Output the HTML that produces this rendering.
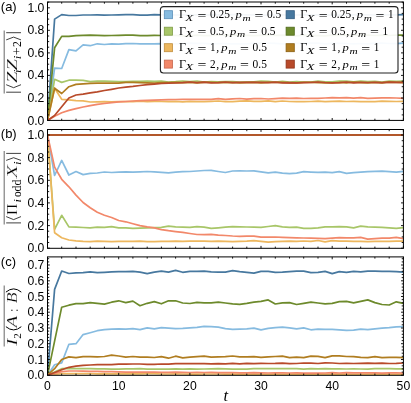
<!DOCTYPE html>
<html><head><meta charset="utf-8"><title>chart</title><style>html,body{margin:0;padding:0;background:#fff}svg{display:block;will-change:transform}</style></head><body>
<svg width="411" height="403" viewBox="0 0 411 403">
<rect width="411" height="403" fill="#fff"/>
<defs>
<clipPath id="cpa"><rect x="47.5" y="2.0" width="355.9" height="118.4"/></clipPath>
<clipPath id="cpb"><rect x="47.5" y="129.5" width="355.9" height="118.8"/></clipPath>
<clipPath id="cpc"><rect x="47.5" y="256.9" width="355.9" height="118.4"/></clipPath>
</defs>
<style>text{font-family:"Liberation Sans",sans-serif;fill:#000}.tk{font-size:12.2px}.pl{font-size:13px}.m{font-family:"Liberation Serif",serif}.i{font-style:italic}</style>
<g fill="none" stroke-width="1.7" stroke-linejoin="round" stroke-linecap="butt" clip-path="url(#cpa)">
<path d="M47.5,120.5 L54.6,68.1 L61.7,68.5 L68.9,49.6 L76.0,50.9 L83.1,44.9 L90.2,45.7 L97.3,43.8 L104.4,44.5 L111.6,43.9 L118.7,44.1 L125.8,43.6 L132.9,43.5 L140.0,43.8 L147.2,43.8 L154.3,43.9 L161.4,43.6 L168.5,43.8 L175.6,43.9 L182.7,43.6 L189.9,43.1 L197.0,43.3 L204.1,43.3 L211.2,43.8 L218.3,43.5 L225.4,43.7 L232.6,43.8 L239.7,43.9 L246.8,43.8 L253.9,43.1 L261.0,43.2 L268.2,43.2 L275.3,43.3 L282.4,43.8 L289.5,43.7 L296.6,43.4 L303.7,43.3 L310.9,43.2 L318.0,43.2 L325.1,43.9 L332.2,43.4 L339.3,43.4 L346.5,43.5 L353.6,43.8 L360.7,43.5 L367.8,43.9 L374.9,43.1 L382.0,43.2 L389.2,43.5 L396.3,43.7 L403.4,43.2" stroke="#86BBE0"/>
<path d="M47.5,120.5 L54.6,79.3 L61.7,82.4 L68.9,80.2 L76.0,80.2 L83.1,80.4 L90.2,81.7 L97.3,81.2 L104.4,81.1 L111.6,81.4 L118.7,81.7 L125.8,81.5 L132.9,81.3 L140.0,81.3 L147.2,81.1 L154.3,81.3 L161.4,81.1 L168.5,82.1 L175.6,81.7 L182.7,81.1 L189.9,81.5 L197.0,81.2 L204.1,82.1 L211.2,81.7 L218.3,81.9 L225.4,81.6 L232.6,81.5 L239.7,82.2 L246.8,81.9 L253.9,81.9 L261.0,81.1 L268.2,81.3 L275.3,82.0 L282.4,81.3 L289.5,82.0 L296.6,81.5 L303.7,82.0 L310.9,82.2 L318.0,81.2 L325.1,81.9 L332.2,81.9 L339.3,81.1 L346.5,81.2 L353.6,81.9 L360.7,81.1 L367.8,81.6 L374.9,81.4 L382.0,82.0 L389.2,81.1 L396.3,81.4 L403.4,81.1" stroke="#A8C668"/>
<path d="M47.5,120.5 L54.6,88.2 L61.7,99.3 L68.9,99.9 L76.0,100.6 L83.1,100.9 L90.2,102.0 L97.3,101.9 L104.4,101.7 L111.6,101.8 L118.7,101.7 L125.8,101.5 L132.9,101.7 L140.0,101.2 L147.2,101.7 L154.3,101.3 L161.4,101.5 L168.5,101.7 L175.6,101.3 L182.7,101.8 L189.9,101.4 L197.0,101.7 L204.1,101.7 L211.2,101.4 L218.3,101.0 L225.4,101.7 L232.6,101.6 L239.7,101.2 L246.8,100.9 L253.9,101.3 L261.0,101.4 L268.2,100.9 L275.3,101.7 L282.4,101.0 L289.5,101.5 L296.6,101.7 L303.7,101.7 L310.9,101.5 L318.0,101.1 L325.1,101.6 L332.2,101.3 L339.3,101.2 L346.5,101.5 L353.6,101.3 L360.7,101.7 L367.8,101.7 L374.9,101.6 L382.0,101.2 L389.2,101.4 L396.3,101.5 L403.4,101.3" stroke="#EDB75E"/>
<path d="M47.5,120.5 L54.6,116.3 L61.7,112.8 L68.9,110.4 L76.0,108.6 L83.1,107.0 L90.2,105.6 L97.3,104.4 L104.4,103.5 L111.6,102.7 L118.7,101.9 L125.8,101.5 L132.9,101.0 L140.0,100.7 L147.2,100.3 L154.3,100.1 L161.4,99.9 L168.5,99.7 L175.6,99.5 L182.7,99.4 L189.9,99.3 L197.0,99.3 L204.1,99.3 L211.2,99.4 L218.3,98.7 L225.4,99.4 L232.6,98.9 L239.7,98.5 L246.8,99.1 L253.9,98.7 L261.0,98.5 L268.2,99.0 L275.3,98.6 L282.4,98.2 L289.5,98.4 L296.6,98.1 L303.7,98.5 L310.9,98.4 L318.0,98.4 L325.1,98.0 L332.2,97.6 L339.3,97.9 L346.5,97.7 L353.6,98.1 L360.7,97.7 L367.8,98.3 L374.9,98.1 L382.0,97.8 L389.2,97.8 L396.3,98.0 L403.4,98.3" stroke="#F2886A"/>
<path d="M47.5,120.5 L54.6,19.1 L61.7,14.6 L68.9,15.5 L76.0,15.5 L83.1,15.0 L90.2,15.0 L97.3,14.9 L104.4,15.1 L111.6,15.0 L118.7,14.9 L125.8,14.7 L132.9,14.7 L140.0,15.1 L147.2,15.1 L154.3,14.7 L161.4,14.8 L168.5,14.8 L175.6,15.0 L182.7,14.9 L189.9,14.9 L197.0,14.9 L204.1,15.1 L211.2,14.9 L218.3,14.9 L225.4,14.8 L232.6,14.7 L239.7,14.7 L246.8,14.9 L253.9,14.9 L261.0,15.0 L268.2,15.1 L275.3,15.1 L282.4,14.9 L289.5,15.0 L296.6,15.0 L303.7,14.7 L310.9,14.9 L318.0,14.9 L325.1,15.0 L332.2,15.1 L339.3,15.0 L346.5,15.1 L353.6,14.9 L360.7,14.7 L367.8,14.8 L374.9,15.0 L382.0,14.7 L389.2,14.8 L396.3,14.8 L403.4,14.7" stroke="#47789F"/>
<path d="M47.5,120.5 L54.6,47.8 L61.7,36.4 L68.9,36.4 L76.0,35.6 L83.1,35.4 L90.2,35.2 L97.3,35.4 L104.4,35.7 L111.6,35.5 L118.7,35.3 L125.8,35.2 L132.9,35.1 L140.0,35.7 L147.2,35.6 L154.3,35.4 L161.4,35.5 L168.5,35.3 L175.6,35.3 L182.7,35.8 L189.9,35.9 L197.0,35.1 L204.1,35.6 L211.2,35.7 L218.3,35.0 L225.4,35.4 L232.6,35.1 L239.7,35.4 L246.8,35.3 L253.9,35.7 L261.0,35.3 L268.2,35.1 L275.3,35.4 L282.4,35.2 L289.5,35.3 L296.6,35.8 L303.7,35.2 L310.9,35.3 L318.0,35.6 L325.1,35.8 L332.2,35.1 L339.3,35.4 L346.5,35.2 L353.6,35.1 L360.7,35.2 L367.8,35.0 L374.9,35.5 L382.0,35.1 L389.2,35.5 L396.3,35.0 L403.4,35.1" stroke="#6D8A2C"/>
<path d="M47.5,120.5 L54.6,88.2 L61.7,93.5 L68.9,86.7 L76.0,84.4 L83.1,83.9 L90.2,83.3 L97.3,83.1 L104.4,83.0 L111.6,83.1 L118.7,83.1 L125.8,82.4 L132.9,82.3 L140.0,82.6 L147.2,82.8 L154.3,83.1 L161.4,82.5 L168.5,82.7 L175.6,82.4 L182.7,82.7 L189.9,82.4 L197.0,82.8 L204.1,82.4 L211.2,82.4 L218.3,82.7 L225.4,82.6 L232.6,82.5 L239.7,82.9 L246.8,82.6 L253.9,82.4 L261.0,82.8 L268.2,82.4 L275.3,82.5 L282.4,82.3 L289.5,82.8 L296.6,83.0 L303.7,82.4 L310.9,82.4 L318.0,82.7 L325.1,83.0 L332.2,82.9 L339.3,82.5 L346.5,82.8 L353.6,82.2 L360.7,82.6 L367.8,82.9 L374.9,82.5 L382.0,82.8 L389.2,82.2 L396.3,82.3 L403.4,82.6" stroke="#B07D20"/>
<path d="M47.5,120.5 L54.6,115.5 L61.7,106.8 L68.9,98.0 L76.0,95.0 L83.1,94.1 L90.2,92.9 L97.3,91.8 L104.4,90.5 L111.6,89.3 L118.7,88.0 L125.8,87.1 L132.9,86.4 L140.0,85.5 L147.2,84.7 L154.3,84.1 L161.4,83.5 L168.5,83.2 L175.6,83.0 L182.7,82.7 L189.9,82.0 L197.0,82.7 L204.1,82.2 L211.2,82.8 L218.3,82.6 L225.4,82.0 L232.6,82.7 L239.7,82.3 L246.8,82.4 L253.9,82.4 L261.0,82.4 L268.2,82.7 L275.3,82.1 L282.4,82.8 L289.5,82.6 L296.6,82.8 L303.7,82.6 L310.9,82.5 L318.0,82.0 L325.1,82.5 L332.2,82.8 L339.3,82.6 L346.5,82.0 L353.6,82.8 L360.7,82.3 L367.8,82.5 L374.9,82.3 L382.0,82.6 L389.2,82.2 L396.3,82.4 L403.4,82.3" stroke="#B84A2A"/>
</g>
<path d="M47.5,120.4v-2.4M47.5,2.0v2.4M61.7,120.4v-1.7M61.7,2.0v1.7M76.0,120.4v-1.7M76.0,2.0v1.7M90.2,120.4v-1.7M90.2,2.0v1.7M104.4,120.4v-1.7M104.4,2.0v1.7M118.7,120.4v-2.4M118.7,2.0v2.4M132.9,120.4v-1.7M132.9,2.0v1.7M147.2,120.4v-1.7M147.2,2.0v1.7M161.4,120.4v-1.7M161.4,2.0v1.7M175.6,120.4v-1.7M175.6,2.0v1.7M189.9,120.4v-2.4M189.9,2.0v2.4M204.1,120.4v-1.7M204.1,2.0v1.7M218.3,120.4v-1.7M218.3,2.0v1.7M232.6,120.4v-1.7M232.6,2.0v1.7M246.8,120.4v-1.7M246.8,2.0v1.7M261.0,120.4v-2.4M261.0,2.0v2.4M275.3,120.4v-1.7M275.3,2.0v1.7M289.5,120.4v-1.7M289.5,2.0v1.7M303.7,120.4v-1.7M303.7,2.0v1.7M318.0,120.4v-1.7M318.0,2.0v1.7M332.2,120.4v-2.4M332.2,2.0v2.4M346.5,120.4v-1.7M346.5,2.0v1.7M360.7,120.4v-1.7M360.7,2.0v1.7M374.9,120.4v-1.7M374.9,2.0v1.7M389.2,120.4v-1.7M389.2,2.0v1.7M403.4,120.4v-2.4M403.4,2.0v2.4M47.5,120.5h2.4M403.4,120.5h-2.4M47.5,114.9h1.7M403.4,114.9h-1.7M47.5,109.2h1.7M403.4,109.2h-1.7M47.5,103.6h1.7M403.4,103.6h-1.7M47.5,98.0h2.4M403.4,98.0h-2.4M47.5,92.3h1.7M403.4,92.3h-1.7M47.5,86.7h1.7M403.4,86.7h-1.7M47.5,81.1h1.7M403.4,81.1h-1.7M47.5,75.4h2.4M403.4,75.4h-2.4M47.5,69.8h1.7M403.4,69.8h-1.7M47.5,64.2h1.7M403.4,64.2h-1.7M47.5,58.5h1.7M403.4,58.5h-1.7M47.5,52.9h2.4M403.4,52.9h-2.4M47.5,47.2h1.7M403.4,47.2h-1.7M47.5,41.6h1.7M403.4,41.6h-1.7M47.5,36.0h1.7M403.4,36.0h-1.7M47.5,30.3h2.4M403.4,30.3h-2.4M47.5,24.7h1.7M403.4,24.7h-1.7M47.5,19.1h1.7M403.4,19.1h-1.7M47.5,13.4h1.7M403.4,13.4h-1.7M47.5,7.8h2.4M403.4,7.8h-2.4M47.5,2.2h1.7M403.4,2.2h-1.7" stroke="#000" stroke-width="0.9" fill="none"/>
<rect x="47.5" y="2.0" width="355.9" height="118.4" fill="none" stroke="#000" stroke-width="1"/>
<text x="44.4" y="124.5" text-anchor="end" class="tk">0.0</text>
<text x="44.4" y="102.0" text-anchor="end" class="tk">0.2</text>
<text x="44.4" y="79.4" text-anchor="end" class="tk">0.4</text>
<text x="44.4" y="56.9" text-anchor="end" class="tk">0.6</text>
<text x="44.4" y="34.3" text-anchor="end" class="tk">0.8</text>
<text x="44.4" y="11.8" text-anchor="end" class="tk">1.0</text>
<g fill="none" stroke-width="1.7" stroke-linejoin="round" stroke-linecap="butt" clip-path="url(#cpb)">
<path d="M47.5,135.0 L54.6,175.5 L61.7,160.4 L68.9,175.0 L76.0,171.5 L83.1,174.6 L90.2,173.4 L97.3,173.0 L104.4,172.0 L111.6,172.5 L118.7,172.2 L125.8,171.9 L132.9,172.1 L140.0,171.8 L147.2,171.5 L154.3,171.9 L161.4,172.4 L168.5,172.8 L175.6,172.1 L182.7,171.7 L189.9,171.5 L197.0,171.0 L204.1,170.5 L211.2,170.4 L218.3,171.5 L225.4,172.5 L232.6,171.0 L239.7,170.9 L246.8,171.0 L253.9,170.8 L261.0,171.8 L268.2,172.9 L275.3,172.1 L282.4,173.1 L289.5,173.7 L296.6,173.1 L303.7,171.7 L310.9,172.1 L318.0,172.4 L325.1,172.1 L332.2,172.6 L339.3,171.7 L346.5,173.4 L353.6,172.6 L360.7,172.1 L367.8,171.7 L374.9,171.3 L382.0,171.2 L389.2,171.7 L396.3,172.1 L403.4,171.3" stroke="#86BBE0"/>
<path d="M47.5,135.0 L54.6,229.3 L61.7,215.3 L68.9,226.9 L76.0,227.1 L83.1,227.5 L90.2,227.8 L97.3,227.1 L104.4,227.3 L111.6,226.7 L118.7,227.9 L125.8,227.8 L132.9,228.3 L140.0,228.1 L147.2,227.9 L154.3,227.7 L161.4,227.4 L168.5,226.2 L175.6,226.9 L182.7,227.1 L189.9,227.3 L197.0,226.7 L204.1,227.1 L211.2,228.4 L218.3,227.8 L225.4,227.1 L232.6,226.6 L239.7,226.8 L246.8,227.0 L253.9,227.1 L261.0,227.3 L268.2,226.5 L275.3,225.7 L282.4,226.9 L289.5,227.4 L296.6,227.1 L303.7,228.3 L310.9,228.4 L318.0,227.8 L325.1,226.9 L332.2,226.8 L339.3,226.6 L346.5,226.8 L353.6,227.8 L360.7,226.2 L367.8,226.9 L374.9,227.1 L382.0,227.3 L389.2,227.8 L396.3,228.4 L403.4,227.7" stroke="#A8C668"/>
<path d="M47.5,135.0 L54.6,232.8 L61.7,237.7 L68.9,240.0 L76.0,240.8 L83.1,241.4 L90.2,241.7 L97.3,241.2 L104.4,241.4 L111.6,241.7 L118.7,241.4 L125.8,241.3 L132.9,241.4 L140.0,241.2 L147.2,241.6 L154.3,241.7 L161.4,241.3 L168.5,241.4 L175.6,241.2 L182.7,241.4 L189.9,241.1 L197.0,241.0 L204.1,241.2 L211.2,241.4 L218.3,241.2 L225.4,241.4 L232.6,241.6 L239.7,241.4 L246.8,241.2 L253.9,240.7 L261.0,241.4 L268.2,242.1 L275.3,241.6 L282.4,241.4 L289.5,241.2 L296.6,241.4 L303.7,241.0 L310.9,241.4 L318.0,240.5 L325.1,241.9 L332.2,240.7 L339.3,241.2 L346.5,241.1 L353.6,241.3 L360.7,241.4 L367.8,241.6 L374.9,241.4 L382.0,241.3 L389.2,241.4 L396.3,241.2 L403.4,241.1" stroke="#EDB75E"/>
<path d="M47.5,135.0 L54.6,167.1 L61.7,179.3 L68.9,186.8 L76.0,195.1 L83.1,202.5 L90.2,207.8 L97.3,212.3 L104.4,215.3 L111.6,217.5 L118.7,220.5 L125.8,221.8 L132.9,223.7 L140.0,225.6 L147.2,226.9 L154.3,227.9 L161.4,229.6 L168.5,230.7 L175.6,231.6 L182.7,232.4 L189.9,233.5 L197.0,234.5 L204.1,234.7 L211.2,234.4 L218.3,235.1 L225.4,235.5 L232.6,236.0 L239.7,236.3 L246.8,236.1 L253.9,236.2 L261.0,237.2 L268.2,237.1 L275.3,237.0 L282.4,237.4 L289.5,237.7 L296.6,237.9 L303.7,238.0 L310.9,238.1 L318.0,238.4 L325.1,238.6 L332.2,238.1 L339.3,237.6 L346.5,237.8 L353.6,237.9 L360.7,237.4 L367.8,239.1 L374.9,238.6 L382.0,238.2 L389.2,238.1 L396.3,237.4 L403.4,238.6" stroke="#F2886A"/>
<path d="M47.5,135.0 L54.6,135.0 L61.7,135.0 L68.9,135.0 L76.0,135.0 L83.1,135.0 L90.2,135.0 L97.3,135.0 L104.4,135.0 L111.6,135.0 L118.7,135.0 L125.8,135.0 L132.9,135.0 L140.0,135.0 L147.2,135.0 L154.3,135.0 L161.4,135.0 L168.5,135.0 L175.6,135.0 L182.7,135.0 L189.9,135.0 L197.0,135.0 L204.1,135.0 L211.2,135.0 L218.3,135.0 L225.4,135.0 L232.6,135.0 L239.7,135.0 L246.8,135.0 L253.9,135.0 L261.0,135.0 L268.2,135.0 L275.3,135.0 L282.4,135.0 L289.5,135.0 L296.6,135.0 L303.7,135.0 L310.9,135.0 L318.0,135.0 L325.1,135.0 L332.2,135.0 L339.3,135.0 L346.5,135.0 L353.6,135.0 L360.7,135.0 L367.8,135.0 L374.9,135.0 L382.0,135.0 L389.2,135.0 L396.3,135.0 L403.4,135.0" stroke="#47789F"/>
<path d="M47.5,135.0 L54.6,135.0 L61.7,135.0 L68.9,135.0 L76.0,135.0 L83.1,135.0 L90.2,135.0 L97.3,135.0 L104.4,135.0 L111.6,135.0 L118.7,135.0 L125.8,135.0 L132.9,135.0 L140.0,135.0 L147.2,135.0 L154.3,135.0 L161.4,135.0 L168.5,135.0 L175.6,135.0 L182.7,135.0 L189.9,135.0 L197.0,135.0 L204.1,135.0 L211.2,135.0 L218.3,135.0 L225.4,135.0 L232.6,135.0 L239.7,135.0 L246.8,135.0 L253.9,135.0 L261.0,135.0 L268.2,135.0 L275.3,135.0 L282.4,135.0 L289.5,135.0 L296.6,135.0 L303.7,135.0 L310.9,135.0 L318.0,135.0 L325.1,135.0 L332.2,135.0 L339.3,135.0 L346.5,135.0 L353.6,135.0 L360.7,135.0 L367.8,135.0 L374.9,135.0 L382.0,135.0 L389.2,135.0 L396.3,135.0 L403.4,135.0" stroke="#6D8A2C"/>
<path d="M47.5,135.0 L54.6,135.0 L61.7,135.0 L68.9,135.0 L76.0,135.0 L83.1,135.0 L90.2,135.0 L97.3,135.0 L104.4,135.0 L111.6,135.0 L118.7,135.0 L125.8,135.0 L132.9,135.0 L140.0,135.0 L147.2,135.0 L154.3,135.0 L161.4,135.0 L168.5,135.0 L175.6,135.0 L182.7,135.0 L189.9,135.0 L197.0,135.0 L204.1,135.0 L211.2,135.0 L218.3,135.0 L225.4,135.0 L232.6,135.0 L239.7,135.0 L246.8,135.0 L253.9,135.0 L261.0,135.0 L268.2,135.0 L275.3,135.0 L282.4,135.0 L289.5,135.0 L296.6,135.0 L303.7,135.0 L310.9,135.0 L318.0,135.0 L325.1,135.0 L332.2,135.0 L339.3,135.0 L346.5,135.0 L353.6,135.0 L360.7,135.0 L367.8,135.0 L374.9,135.0 L382.0,135.0 L389.2,135.0 L396.3,135.0 L403.4,135.0" stroke="#B07D20"/>
<path d="M47.5,135.0 L54.6,135.0 L61.7,135.0 L68.9,135.0 L76.0,135.0 L83.1,135.0 L90.2,135.0 L97.3,135.0 L104.4,135.0 L111.6,135.0 L118.7,135.0 L125.8,135.0 L132.9,135.0 L140.0,135.0 L147.2,135.0 L154.3,135.0 L161.4,135.0 L168.5,135.0 L175.6,135.0 L182.7,135.0 L189.9,135.0 L197.0,135.0 L204.1,135.0 L211.2,135.0 L218.3,135.0 L225.4,135.0 L232.6,135.0 L239.7,135.0 L246.8,135.0 L253.9,135.0 L261.0,135.0 L268.2,135.0 L275.3,135.0 L282.4,135.0 L289.5,135.0 L296.6,135.0 L303.7,135.0 L310.9,135.0 L318.0,135.0 L325.1,135.0 L332.2,135.0 L339.3,135.0 L346.5,135.0 L353.6,135.0 L360.7,135.0 L367.8,135.0 L374.9,135.0 L382.0,135.0 L389.2,135.0 L396.3,135.0 L403.4,135.0" stroke="#B84A2A"/>
</g>
<path d="M47.5,248.3v-2.4M47.5,129.5v2.4M61.7,248.3v-1.7M61.7,129.5v1.7M76.0,248.3v-1.7M76.0,129.5v1.7M90.2,248.3v-1.7M90.2,129.5v1.7M104.4,248.3v-1.7M104.4,129.5v1.7M118.7,248.3v-2.4M118.7,129.5v2.4M132.9,248.3v-1.7M132.9,129.5v1.7M147.2,248.3v-1.7M147.2,129.5v1.7M161.4,248.3v-1.7M161.4,129.5v1.7M175.6,248.3v-1.7M175.6,129.5v1.7M189.9,248.3v-2.4M189.9,129.5v2.4M204.1,248.3v-1.7M204.1,129.5v1.7M218.3,248.3v-1.7M218.3,129.5v1.7M232.6,248.3v-1.7M232.6,129.5v1.7M246.8,248.3v-1.7M246.8,129.5v1.7M261.0,248.3v-2.4M261.0,129.5v2.4M275.3,248.3v-1.7M275.3,129.5v1.7M289.5,248.3v-1.7M289.5,129.5v1.7M303.7,248.3v-1.7M303.7,129.5v1.7M318.0,248.3v-1.7M318.0,129.5v1.7M332.2,248.3v-2.4M332.2,129.5v2.4M346.5,248.3v-1.7M346.5,129.5v1.7M360.7,248.3v-1.7M360.7,129.5v1.7M374.9,248.3v-1.7M374.9,129.5v1.7M389.2,248.3v-1.7M389.2,129.5v1.7M403.4,248.3v-2.4M403.4,129.5v2.4M47.5,248.2h2.4M403.4,248.2h-2.4M47.5,242.5h1.7M403.4,242.5h-1.7M47.5,236.9h1.7M403.4,236.9h-1.7M47.5,231.2h1.7M403.4,231.2h-1.7M47.5,225.6h2.4M403.4,225.6h-2.4M47.5,219.9h1.7M403.4,219.9h-1.7M47.5,214.2h1.7M403.4,214.2h-1.7M47.5,208.6h1.7M403.4,208.6h-1.7M47.5,202.9h2.4M403.4,202.9h-2.4M47.5,197.3h1.7M403.4,197.3h-1.7M47.5,191.6h1.7M403.4,191.6h-1.7M47.5,185.9h1.7M403.4,185.9h-1.7M47.5,180.3h2.4M403.4,180.3h-2.4M47.5,174.6h1.7M403.4,174.6h-1.7M47.5,169.0h1.7M403.4,169.0h-1.7M47.5,163.3h1.7M403.4,163.3h-1.7M47.5,157.6h2.4M403.4,157.6h-2.4M47.5,152.0h1.7M403.4,152.0h-1.7M47.5,146.3h1.7M403.4,146.3h-1.7M47.5,140.7h1.7M403.4,140.7h-1.7M47.5,135.0h2.4M403.4,135.0h-2.4" stroke="#000" stroke-width="0.9" fill="none"/>
<rect x="47.5" y="129.5" width="355.9" height="118.8" fill="none" stroke="#000" stroke-width="1"/>
<text x="44.4" y="252.2" text-anchor="end" class="tk">0.0</text>
<text x="44.4" y="229.6" text-anchor="end" class="tk">0.2</text>
<text x="44.4" y="206.9" text-anchor="end" class="tk">0.4</text>
<text x="44.4" y="184.3" text-anchor="end" class="tk">0.6</text>
<text x="44.4" y="161.6" text-anchor="end" class="tk">0.8</text>
<text x="44.4" y="139.0" text-anchor="end" class="tk">1.0</text>
<g fill="none" stroke-width="1.7" stroke-linejoin="round" stroke-linecap="butt" clip-path="url(#cpc)">
<path d="M47.5,375.2 L54.6,364.8 L61.7,362.9 L68.9,344.3 L76.0,343.7 L83.1,334.6 L90.2,332.7 L97.3,330.7 L104.4,329.6 L111.6,329.1 L118.7,328.9 L125.8,329.1 L132.9,328.6 L140.0,329.6 L147.2,327.9 L154.3,328.9 L161.4,327.6 L168.5,328.1 L175.6,328.6 L182.7,328.4 L189.9,327.9 L197.0,327.4 L204.1,326.4 L211.2,326.7 L218.3,327.2 L225.4,328.6 L232.6,329.4 L239.7,329.1 L246.8,328.9 L253.9,328.1 L261.0,329.8 L268.2,328.4 L275.3,327.6 L282.4,327.2 L289.5,327.9 L296.6,328.9 L303.7,327.9 L310.9,329.8 L318.0,329.1 L325.1,329.4 L332.2,329.4 L339.3,329.8 L346.5,330.3 L353.6,330.1 L360.7,329.1 L367.8,329.6 L374.9,328.9 L382.0,328.1 L389.2,327.6 L396.3,326.9 L403.4,326.7" stroke="#86BBE0"/>
<path d="M47.5,375.2 L54.6,372.1 L61.7,368.7 L68.9,368.4 L76.0,368.6 L83.1,368.7 L90.2,368.7 L97.3,368.9 L104.4,368.9 L111.6,369.1 L118.7,369.1 L125.8,368.8 L132.9,368.8 L140.0,368.7 L147.2,369.1 L154.3,369.1 L161.4,369.1 L168.5,369.1 L175.6,368.8 L182.7,369.1 L189.9,368.9 L197.0,369.1 L204.1,369.0 L211.2,368.9 L218.3,368.7 L225.4,368.8 L232.6,369.2 L239.7,369.0 L246.8,369.1 L253.9,368.7 L261.0,368.7 L268.2,368.7 L275.3,368.7 L282.4,368.7 L289.5,368.6 L296.6,368.7 L303.7,369.1 L310.9,368.7 L318.0,368.9 L325.1,368.7 L332.2,368.9 L339.3,368.9 L346.5,369.0 L353.6,368.9 L360.7,369.0 L367.8,369.1 L374.9,368.7 L382.0,368.7 L389.2,368.6 L396.3,368.8 L403.4,368.9" stroke="#A8C668"/>
<path d="M47.5,375.2 L54.6,374.3 L61.7,373.6 L68.9,373.5 L76.0,373.6 L83.1,373.6 L90.2,373.5 L97.3,373.8 L104.4,373.6 L111.6,373.8 L118.7,373.6 L125.8,373.9 L132.9,373.7 L140.0,373.8 L147.2,373.7 L154.3,373.7 L161.4,374.0 L168.5,374.0 L175.6,373.9 L182.7,374.0 L189.9,374.1 L197.0,374.1 L204.1,374.0 L211.2,374.0 L218.3,374.0 L225.4,374.2 L232.6,374.0 L239.7,374.2 L246.8,374.3 L253.9,374.2 L261.0,374.3 L268.2,374.4 L275.3,374.2 L282.4,374.3 L289.5,374.2 L296.6,374.1 L303.7,374.2 L310.9,374.3 L318.0,374.2 L325.1,374.1 L332.2,374.3 L339.3,374.1 L346.5,374.4 L353.6,374.3 L360.7,374.3 L367.8,374.1 L374.9,374.2 L382.0,374.2 L389.2,374.3 L396.3,374.3 L403.4,374.2" stroke="#EDB75E"/>
<path d="M47.5,375.2 L54.6,373.3 L61.7,371.7 L68.9,371.0 L76.0,371.0 L83.1,371.1 L90.2,371.3 L97.3,371.4 L104.4,371.6 L111.6,371.7 L118.7,371.9 L125.8,372.1 L132.9,372.2 L140.0,372.0 L147.2,372.1 L154.3,372.0 L161.4,372.3 L168.5,372.4 L175.6,372.2 L182.7,372.3 L189.9,372.5 L197.0,372.4 L204.1,372.5 L211.2,372.4 L218.3,372.7 L225.4,372.7 L232.6,372.5 L239.7,372.8 L246.8,372.8 L253.9,372.7 L261.0,372.8 L268.2,373.0 L275.3,372.9 L282.4,372.9 L289.5,373.0 L296.6,372.9 L303.7,373.1 L310.9,373.0 L318.0,373.1 L325.1,373.0 L332.2,372.7 L339.3,373.0 L346.5,372.7 L353.6,372.9 L360.7,372.9 L367.8,372.8 L374.9,372.8 L382.0,373.1 L389.2,372.9 L396.3,372.9 L403.4,373.0" stroke="#F2886A"/>
<path d="M47.5,375.2 L54.6,289.4 L61.7,271.0 L68.9,273.5 L76.0,272.9 L83.1,272.6 L90.2,271.8 L97.3,272.7 L104.4,272.3 L111.6,271.8 L118.7,271.6 L125.8,271.6 L132.9,271.4 L140.0,272.1 L147.2,273.6 L154.3,272.1 L161.4,271.1 L168.5,272.1 L175.6,270.4 L182.7,272.3 L189.9,271.4 L197.0,271.4 L204.1,271.1 L211.2,271.9 L218.3,272.1 L225.4,272.1 L232.6,270.6 L239.7,271.6 L246.8,272.3 L253.9,273.1 L261.0,271.4 L268.2,271.4 L275.3,272.3 L282.4,272.1 L289.5,271.6 L296.6,271.1 L303.7,271.1 L310.9,272.6 L318.0,272.3 L325.1,271.4 L332.2,273.6 L339.3,271.6 L346.5,272.3 L353.6,271.4 L360.7,271.9 L367.8,271.1 L374.9,271.1 L382.0,271.4 L389.2,271.4 L396.3,271.6 L403.4,272.1" stroke="#47789F"/>
<path d="M47.5,375.2 L54.6,341.2 L61.7,307.2 L68.9,305.2 L76.0,303.7 L83.1,303.7 L90.2,302.6 L97.3,303.3 L104.4,304.1 L111.6,302.2 L118.7,300.8 L125.8,302.6 L132.9,301.1 L140.0,305.7 L147.2,303.3 L154.3,301.6 L161.4,303.8 L168.5,300.8 L175.6,300.8 L182.7,303.0 L189.9,303.5 L197.0,302.3 L204.1,302.8 L211.2,302.8 L218.3,302.1 L225.4,303.0 L232.6,303.8 L239.7,304.3 L246.8,303.3 L253.9,302.1 L261.0,301.3 L268.2,299.9 L275.3,304.0 L282.4,302.8 L289.5,302.6 L296.6,304.5 L303.7,303.3 L310.9,302.1 L318.0,303.0 L325.1,303.8 L332.2,303.3 L339.3,301.6 L346.5,301.3 L353.6,302.8 L360.7,301.3 L367.8,299.9 L374.9,302.6 L382.0,304.5 L389.2,305.0 L396.3,301.8 L403.4,303.3" stroke="#6D8A2C"/>
<path d="M47.5,375.2 L54.6,368.7 L61.7,359.5 L68.9,356.9 L76.0,357.6 L83.1,356.6 L90.2,356.6 L97.3,356.9 L104.4,356.5 L111.6,355.2 L118.7,356.0 L125.8,357.2 L132.9,356.5 L140.0,357.2 L147.2,357.2 L154.3,357.5 L161.4,356.7 L168.5,358.2 L175.6,356.2 L182.7,357.9 L189.9,357.2 L197.0,356.7 L204.1,356.2 L211.2,357.2 L218.3,356.9 L225.4,356.7 L232.6,356.0 L239.7,356.8 L246.8,356.8 L253.9,356.6 L261.0,357.4 L268.2,356.8 L275.3,356.5 L282.4,356.2 L289.5,357.6 L296.6,357.2 L303.7,357.6 L310.9,356.2 L318.0,356.4 L325.1,357.6 L332.2,355.9 L339.3,355.9 L346.5,356.5 L353.6,356.6 L360.7,357.4 L367.8,357.7 L374.9,356.7 L382.0,357.6 L389.2,357.4 L396.3,357.3 L403.4,357.7" stroke="#B07D20"/>
<path d="M47.5,375.2 L54.6,372.5 L61.7,369.7 L68.9,367.3 L76.0,366.2 L83.1,365.4 L90.2,365.0 L97.3,364.7 L104.4,364.7 L111.6,364.7 L118.7,364.2 L125.8,364.2 L132.9,364.0 L140.0,364.0 L147.2,364.3 L154.3,364.3 L161.4,364.0 L168.5,364.1 L175.6,363.7 L182.7,363.7 L189.9,363.7 L197.0,363.7 L204.1,363.6 L211.2,363.9 L218.3,363.7 L225.4,363.8 L232.6,363.3 L239.7,363.8 L246.8,363.3 L253.9,363.7 L261.0,363.3 L268.2,363.5 L275.3,363.4 L282.4,363.1 L289.5,363.6 L296.6,363.5 L303.7,363.0 L310.9,363.2 L318.0,363.5 L325.1,362.9 L332.2,363.0 L339.3,363.5 L346.5,363.3 L353.6,363.5 L360.7,363.4 L367.8,363.2 L374.9,363.4 L382.0,363.1 L389.2,363.5 L396.3,363.4 L403.4,363.0" stroke="#B84A2A"/>
</g>
<path d="M47.5,375.3v-2.4M47.5,256.9v2.4M61.7,375.3v-1.7M61.7,256.9v1.7M76.0,375.3v-1.7M76.0,256.9v1.7M90.2,375.3v-1.7M90.2,256.9v1.7M104.4,375.3v-1.7M104.4,256.9v1.7M118.7,375.3v-2.4M118.7,256.9v2.4M132.9,375.3v-1.7M132.9,256.9v1.7M147.2,375.3v-1.7M147.2,256.9v1.7M161.4,375.3v-1.7M161.4,256.9v1.7M175.6,375.3v-1.7M175.6,256.9v1.7M189.9,375.3v-2.4M189.9,256.9v2.4M204.1,375.3v-1.7M204.1,256.9v1.7M218.3,375.3v-1.7M218.3,256.9v1.7M232.6,375.3v-1.7M232.6,256.9v1.7M246.8,375.3v-1.7M246.8,256.9v1.7M261.0,375.3v-2.4M261.0,256.9v2.4M275.3,375.3v-1.7M275.3,256.9v1.7M289.5,375.3v-1.7M289.5,256.9v1.7M303.7,375.3v-1.7M303.7,256.9v1.7M318.0,375.3v-1.7M318.0,256.9v1.7M332.2,375.3v-2.4M332.2,256.9v2.4M346.5,375.3v-1.7M346.5,256.9v1.7M360.7,375.3v-1.7M360.7,256.9v1.7M374.9,375.3v-1.7M374.9,256.9v1.7M389.2,375.3v-1.7M389.2,256.9v1.7M403.4,375.3v-2.4M403.4,256.9v2.4M47.5,375.2h2.4M403.4,375.2h-2.4M47.5,372.1h1.7M403.4,372.1h-1.7M47.5,368.9h1.7M403.4,368.9h-1.7M47.5,365.8h1.7M403.4,365.8h-1.7M47.5,362.6h1.7M403.4,362.6h-1.7M47.5,359.5h2.4M403.4,359.5h-2.4M47.5,356.3h1.7M403.4,356.3h-1.7M47.5,353.2h1.7M403.4,353.2h-1.7M47.5,350.0h1.7M403.4,350.0h-1.7M47.5,346.9h1.7M403.4,346.9h-1.7M47.5,343.7h2.4M403.4,343.7h-2.4M47.5,340.6h1.7M403.4,340.6h-1.7M47.5,337.4h1.7M403.4,337.4h-1.7M47.5,334.3h1.7M403.4,334.3h-1.7M47.5,331.1h1.7M403.4,331.1h-1.7M47.5,328.0h2.4M403.4,328.0h-2.4M47.5,324.8h1.7M403.4,324.8h-1.7M47.5,321.7h1.7M403.4,321.7h-1.7M47.5,318.5h1.7M403.4,318.5h-1.7M47.5,315.4h1.7M403.4,315.4h-1.7M47.5,312.2h2.4M403.4,312.2h-2.4M47.5,309.1h1.7M403.4,309.1h-1.7M47.5,305.9h1.7M403.4,305.9h-1.7M47.5,302.8h1.7M403.4,302.8h-1.7M47.5,299.6h1.7M403.4,299.6h-1.7M47.5,296.5h2.4M403.4,296.5h-2.4M47.5,293.4h1.7M403.4,293.4h-1.7M47.5,290.2h1.7M403.4,290.2h-1.7M47.5,287.1h1.7M403.4,287.1h-1.7M47.5,283.9h1.7M403.4,283.9h-1.7M47.5,280.8h2.4M403.4,280.8h-2.4M47.5,277.6h1.7M403.4,277.6h-1.7M47.5,274.5h1.7M403.4,274.5h-1.7M47.5,271.3h1.7M403.4,271.3h-1.7M47.5,268.2h1.7M403.4,268.2h-1.7M47.5,265.0h2.4M403.4,265.0h-2.4M47.5,261.9h1.7M403.4,261.9h-1.7M47.5,258.7h1.7M403.4,258.7h-1.7" stroke="#000" stroke-width="0.9" fill="none"/>
<rect x="47.5" y="256.9" width="355.9" height="118.4" fill="none" stroke="#000" stroke-width="1"/>
<text x="44.4" y="379.2" text-anchor="end" class="tk">0.0</text>
<text x="44.4" y="363.5" text-anchor="end" class="tk">0.1</text>
<text x="44.4" y="347.7" text-anchor="end" class="tk">0.2</text>
<text x="44.4" y="332.0" text-anchor="end" class="tk">0.3</text>
<text x="44.4" y="316.2" text-anchor="end" class="tk">0.4</text>
<text x="44.4" y="300.5" text-anchor="end" class="tk">0.5</text>
<text x="44.4" y="284.8" text-anchor="end" class="tk">0.6</text>
<text x="44.4" y="269.0" text-anchor="end" class="tk">0.7</text>
<text x="47.5" y="389.6" text-anchor="middle" class="tk">0</text>
<text x="118.7" y="389.6" text-anchor="middle" class="tk">10</text>
<text x="189.9" y="389.6" text-anchor="middle" class="tk">20</text>
<text x="261.0" y="389.6" text-anchor="middle" class="tk">30</text>
<text x="332.2" y="389.6" text-anchor="middle" class="tk">40</text>
<text x="403.4" y="389.6" text-anchor="middle" class="tk">50</text>
<text x="225.8" y="400.5" text-anchor="middle" class="m i" style="font-size:16.5px">t</text>
<text x="0.8" y="10.8" class="pl">(a)</text>
<text x="0.8" y="138.4" class="pl">(b)</text>
<text x="0.8" y="266.0" class="pl">(c)</text>
<rect x="160.4" y="6.6" width="237.6" height="66.4" rx="3" ry="3" fill="#fff" fill-opacity="0.94" stroke="#222" stroke-width="1.1"/>
<rect x="164.3" y="10.7" width="8.2" height="8.0" fill="#86BBE0" stroke="#5A8FBA" stroke-width="0.8"/>
<text x="179.0" y="18.3" textLength="7.0" lengthAdjust="spacingAndGlyphs" class="m" style="font-size:11.6px">Γ</text><text x="185.3" y="20.9" textLength="8.0" lengthAdjust="spacingAndGlyphs" class="m i" style="font-size:9.0px">X</text><text x="197.5" y="19.5" textLength="8.9" lengthAdjust="spacingAndGlyphs" class="m" style="font-size:12.0px">=</text><text x="210.0" y="18.3" textLength="19.9" lengthAdjust="spacingAndGlyphs" class="m" style="font-size:12.4px">0.25</text><text x="230.6" y="18.3" class="m" style="font-size:11.6px">,</text><text x="235.5" y="18.3" textLength="6.3" lengthAdjust="spacingAndGlyphs" class="m i" style="font-size:11.0px">p</text><text x="242.5" y="20.8" textLength="8.2" lengthAdjust="spacingAndGlyphs" class="m i" style="font-size:8.6px">m</text><text x="254.4" y="19.5" textLength="8.9" lengthAdjust="spacingAndGlyphs" class="m" style="font-size:12.0px">=</text><text x="266.9" y="18.3" textLength="14.3" lengthAdjust="spacingAndGlyphs" class="m" style="font-size:12.4px">0.5</text>
<rect x="286.1" y="10.7" width="8.2" height="8.0" fill="#47789F" stroke="#2F5A80" stroke-width="0.8"/>
<text x="300.2" y="18.3" textLength="7.0" lengthAdjust="spacingAndGlyphs" class="m" style="font-size:11.6px">Γ</text><text x="306.5" y="20.9" textLength="8.0" lengthAdjust="spacingAndGlyphs" class="m i" style="font-size:9.0px">X</text><text x="318.7" y="19.5" textLength="8.9" lengthAdjust="spacingAndGlyphs" class="m" style="font-size:12.0px">=</text><text x="331.2" y="18.3" textLength="19.9" lengthAdjust="spacingAndGlyphs" class="m" style="font-size:12.4px">0.25</text><text x="351.8" y="18.3" class="m" style="font-size:11.6px">,</text><text x="356.7" y="18.3" textLength="6.3" lengthAdjust="spacingAndGlyphs" class="m i" style="font-size:11.0px">p</text><text x="363.7" y="20.8" textLength="8.2" lengthAdjust="spacingAndGlyphs" class="m i" style="font-size:8.6px">m</text><text x="375.6" y="19.5" textLength="8.9" lengthAdjust="spacingAndGlyphs" class="m" style="font-size:12.0px">=</text><text x="388.1" y="18.3" textLength="5.6" lengthAdjust="spacingAndGlyphs" class="m" style="font-size:12.4px">1</text>
<rect x="164.3" y="27.2" width="8.2" height="8.0" fill="#A8C668" stroke="#7E9C45" stroke-width="0.8"/>
<text x="179.0" y="34.8" textLength="7.0" lengthAdjust="spacingAndGlyphs" class="m" style="font-size:11.6px">Γ</text><text x="185.3" y="37.4" textLength="8.0" lengthAdjust="spacingAndGlyphs" class="m i" style="font-size:9.0px">X</text><text x="197.5" y="36.0" textLength="8.9" lengthAdjust="spacingAndGlyphs" class="m" style="font-size:12.0px">=</text><text x="210.0" y="34.8" textLength="14.3" lengthAdjust="spacingAndGlyphs" class="m" style="font-size:12.4px">0.5</text><text x="225.0" y="34.8" class="m" style="font-size:11.6px">,</text><text x="229.9" y="34.8" textLength="6.3" lengthAdjust="spacingAndGlyphs" class="m i" style="font-size:11.0px">p</text><text x="236.9" y="37.3" textLength="8.2" lengthAdjust="spacingAndGlyphs" class="m i" style="font-size:8.6px">m</text><text x="248.8" y="36.0" textLength="8.9" lengthAdjust="spacingAndGlyphs" class="m" style="font-size:12.0px">=</text><text x="261.3" y="34.8" textLength="14.3" lengthAdjust="spacingAndGlyphs" class="m" style="font-size:12.4px">0.5</text>
<rect x="286.1" y="27.2" width="8.2" height="8.0" fill="#6D8A2C" stroke="#4F6A1A" stroke-width="0.8"/>
<text x="300.2" y="34.8" textLength="7.0" lengthAdjust="spacingAndGlyphs" class="m" style="font-size:11.6px">Γ</text><text x="306.5" y="37.4" textLength="8.0" lengthAdjust="spacingAndGlyphs" class="m i" style="font-size:9.0px">X</text><text x="318.7" y="36.0" textLength="8.9" lengthAdjust="spacingAndGlyphs" class="m" style="font-size:12.0px">=</text><text x="331.2" y="34.8" textLength="14.3" lengthAdjust="spacingAndGlyphs" class="m" style="font-size:12.4px">0.5</text><text x="346.2" y="34.8" class="m" style="font-size:11.6px">,</text><text x="351.1" y="34.8" textLength="6.3" lengthAdjust="spacingAndGlyphs" class="m i" style="font-size:11.0px">p</text><text x="358.1" y="37.3" textLength="8.2" lengthAdjust="spacingAndGlyphs" class="m i" style="font-size:8.6px">m</text><text x="370.0" y="36.0" textLength="8.9" lengthAdjust="spacingAndGlyphs" class="m" style="font-size:12.0px">=</text><text x="382.5" y="34.8" textLength="5.6" lengthAdjust="spacingAndGlyphs" class="m" style="font-size:12.4px">1</text>
<rect x="164.3" y="43.7" width="8.2" height="8.0" fill="#EDB75E" stroke="#C08E3E" stroke-width="0.8"/>
<text x="179.0" y="51.3" textLength="7.0" lengthAdjust="spacingAndGlyphs" class="m" style="font-size:11.6px">Γ</text><text x="185.3" y="53.9" textLength="8.0" lengthAdjust="spacingAndGlyphs" class="m i" style="font-size:9.0px">X</text><text x="197.5" y="52.5" textLength="8.9" lengthAdjust="spacingAndGlyphs" class="m" style="font-size:12.0px">=</text><text x="210.0" y="51.3" textLength="5.6" lengthAdjust="spacingAndGlyphs" class="m" style="font-size:12.4px">1</text><text x="216.3" y="51.3" class="m" style="font-size:11.6px">,</text><text x="221.2" y="51.3" textLength="6.3" lengthAdjust="spacingAndGlyphs" class="m i" style="font-size:11.0px">p</text><text x="228.2" y="53.8" textLength="8.2" lengthAdjust="spacingAndGlyphs" class="m i" style="font-size:8.6px">m</text><text x="240.1" y="52.5" textLength="8.9" lengthAdjust="spacingAndGlyphs" class="m" style="font-size:12.0px">=</text><text x="252.6" y="51.3" textLength="14.3" lengthAdjust="spacingAndGlyphs" class="m" style="font-size:12.4px">0.5</text>
<rect x="286.1" y="43.7" width="8.2" height="8.0" fill="#B07D20" stroke="#8A5E10" stroke-width="0.8"/>
<text x="300.2" y="51.3" textLength="7.0" lengthAdjust="spacingAndGlyphs" class="m" style="font-size:11.6px">Γ</text><text x="306.5" y="53.9" textLength="8.0" lengthAdjust="spacingAndGlyphs" class="m i" style="font-size:9.0px">X</text><text x="318.7" y="52.5" textLength="8.9" lengthAdjust="spacingAndGlyphs" class="m" style="font-size:12.0px">=</text><text x="331.2" y="51.3" textLength="5.6" lengthAdjust="spacingAndGlyphs" class="m" style="font-size:12.4px">1</text><text x="337.5" y="51.3" class="m" style="font-size:11.6px">,</text><text x="342.4" y="51.3" textLength="6.3" lengthAdjust="spacingAndGlyphs" class="m i" style="font-size:11.0px">p</text><text x="349.4" y="53.8" textLength="8.2" lengthAdjust="spacingAndGlyphs" class="m i" style="font-size:8.6px">m</text><text x="361.3" y="52.5" textLength="8.9" lengthAdjust="spacingAndGlyphs" class="m" style="font-size:12.0px">=</text><text x="373.8" y="51.3" textLength="5.6" lengthAdjust="spacingAndGlyphs" class="m" style="font-size:12.4px">1</text>
<rect x="164.3" y="60.1" width="8.2" height="8.0" fill="#F2886A" stroke="#C8674C" stroke-width="0.8"/>
<text x="179.0" y="67.7" textLength="7.0" lengthAdjust="spacingAndGlyphs" class="m" style="font-size:11.6px">Γ</text><text x="185.3" y="70.3" textLength="8.0" lengthAdjust="spacingAndGlyphs" class="m i" style="font-size:9.0px">X</text><text x="197.5" y="68.9" textLength="8.9" lengthAdjust="spacingAndGlyphs" class="m" style="font-size:12.0px">=</text><text x="210.0" y="67.7" textLength="5.6" lengthAdjust="spacingAndGlyphs" class="m" style="font-size:12.4px">2</text><text x="216.3" y="67.7" class="m" style="font-size:11.6px">,</text><text x="221.2" y="67.7" textLength="6.3" lengthAdjust="spacingAndGlyphs" class="m i" style="font-size:11.0px">p</text><text x="228.2" y="70.2" textLength="8.2" lengthAdjust="spacingAndGlyphs" class="m i" style="font-size:8.6px">m</text><text x="240.1" y="68.9" textLength="8.9" lengthAdjust="spacingAndGlyphs" class="m" style="font-size:12.0px">=</text><text x="252.6" y="67.7" textLength="14.3" lengthAdjust="spacingAndGlyphs" class="m" style="font-size:12.4px">0.5</text>
<rect x="286.1" y="60.1" width="8.2" height="8.0" fill="#B84A2A" stroke="#8F3318" stroke-width="0.8"/>
<text x="300.2" y="67.7" textLength="7.0" lengthAdjust="spacingAndGlyphs" class="m" style="font-size:11.6px">Γ</text><text x="306.5" y="70.3" textLength="8.0" lengthAdjust="spacingAndGlyphs" class="m i" style="font-size:9.0px">X</text><text x="318.7" y="68.9" textLength="8.9" lengthAdjust="spacingAndGlyphs" class="m" style="font-size:12.0px">=</text><text x="331.2" y="67.7" textLength="5.6" lengthAdjust="spacingAndGlyphs" class="m" style="font-size:12.4px">2</text><text x="337.5" y="67.7" class="m" style="font-size:11.6px">,</text><text x="342.4" y="67.7" textLength="6.3" lengthAdjust="spacingAndGlyphs" class="m i" style="font-size:11.0px">p</text><text x="349.4" y="70.2" textLength="8.2" lengthAdjust="spacingAndGlyphs" class="m i" style="font-size:8.6px">m</text><text x="361.3" y="68.9" textLength="8.9" lengthAdjust="spacingAndGlyphs" class="m" style="font-size:12.0px">=</text><text x="373.8" y="67.7" textLength="5.6" lengthAdjust="spacingAndGlyphs" class="m" style="font-size:12.4px">1</text>
<g transform="translate(17.3,93.5) rotate(-90)"><path d="M0,-13.1H63.0" stroke="#000" stroke-width="1.1" stroke-opacity="0.55" fill="none"/><path d="M1.3,-11.1V3.7" stroke="#000" stroke-width="0.75" fill="none"/><path d="M8.8,-11.1L5.8,-3.7L8.8,3.7" stroke="#000" stroke-width="0.75" fill="none"/><text x="10.6" y="0.0" textLength="11.4" lengthAdjust="spacingAndGlyphs" stroke="#fff" stroke-width="0.2" class="m i" style="font-size:15.5px">Z</text><text x="20.6" y="3.6" textLength="3.4" lengthAdjust="spacingAndGlyphs" class="m i" style="font-size:10.0px">i</text><text x="23.0" y="0.0" textLength="11.4" lengthAdjust="spacingAndGlyphs" stroke="#fff" stroke-width="0.2" class="m i" style="font-size:15.5px">Z</text><text x="34.2" y="3.6" textLength="3.6" lengthAdjust="spacingAndGlyphs" class="m i" style="font-size:10.5px">i</text><text x="38.2" y="3.6" textLength="8.0" lengthAdjust="spacingAndGlyphs" class="m" style="font-size:11.5px">+</text><text x="46.4" y="3.6" textLength="5.8" lengthAdjust="spacingAndGlyphs" class="m" style="font-size:11.5px">2</text><path d="M53.6,-11.1L56.4,-3.7L53.6,3.7" stroke="#000" stroke-width="0.75" fill="none"/><path d="M60.8,-11.1V3.7" stroke="#000" stroke-width="0.75" fill="none"/></g>
<g transform="translate(17.3,224.5) rotate(-90)"><path d="M0,-13.1H73.5" stroke="#000" stroke-width="1.1" stroke-opacity="0.55" fill="none"/><path d="M1.6,-11.1V3.7" stroke="#000" stroke-width="0.75" fill="none"/><path d="M7.9,-11.1L4.9,-3.7L7.9,3.7" stroke="#000" stroke-width="0.75" fill="none"/><text x="9.4" y="0.0" textLength="11.2" lengthAdjust="spacingAndGlyphs" stroke="#fff" stroke-width="0.2" class="m" style="font-size:15.5px">Π</text><text x="22.0" y="3.6" textLength="3.4" lengthAdjust="spacingAndGlyphs" class="m i" style="font-size:10.5px">i</text><text x="27.4" y="3.6" textLength="5.6" lengthAdjust="spacingAndGlyphs" class="m" style="font-size:11.5px">o</text><text x="33.0" y="3.6" textLength="5.9" lengthAdjust="spacingAndGlyphs" class="m" style="font-size:11.5px">d</text><text x="38.9" y="3.6" textLength="5.9" lengthAdjust="spacingAndGlyphs" class="m" style="font-size:11.5px">d</text><text x="46.3" y="0.0" textLength="13.2" lengthAdjust="spacingAndGlyphs" stroke="#fff" stroke-width="0.2" class="m i" style="font-size:15.5px">X</text><text x="59.6" y="3.6" textLength="3.6" lengthAdjust="spacingAndGlyphs" class="m i" style="font-size:10.5px">i</text><path d="M64.1,-11.1L66.8,-3.7L64.1,3.7" stroke="#000" stroke-width="0.75" fill="none"/><path d="M71.1,-11.1V3.7" stroke="#000" stroke-width="0.75" fill="none"/></g>
<g transform="translate(17.3,346.4) rotate(-90)"><path d="M0,-13.1H61.0" stroke="#000" stroke-width="1.1" stroke-opacity="0.55" fill="none"/><text x="0.6" y="0.0" textLength="7.0" lengthAdjust="spacingAndGlyphs" stroke="#fff" stroke-width="0.2" class="m i" style="font-size:15.5px">I</text><text x="7.6" y="3.2" textLength="5.6" lengthAdjust="spacingAndGlyphs" class="m" style="font-size:11.0px">2</text><path d="M19.7,-11.4Q13.3,-3.7 19.7,4.0" stroke="#000" stroke-width="1" fill="none"/><text x="19.0" y="0.0" textLength="11.6" lengthAdjust="spacingAndGlyphs" stroke="#fff" stroke-width="0.2" class="m i" style="font-size:15.5px">A</text><text x="34.1" y="1.0" textLength="4.0" lengthAdjust="spacingAndGlyphs" stroke="#fff" stroke-width="0.2" class="m" style="font-size:15.5px">:</text><text x="43.1" y="0.0" textLength="10.8" lengthAdjust="spacingAndGlyphs" stroke="#fff" stroke-width="0.2" class="m i" style="font-size:15.5px">B</text><path d="M54.3,-11.4Q60.7,-3.7 54.3,4.0" stroke="#000" stroke-width="1" fill="none"/></g>
</svg>
</body></html>
